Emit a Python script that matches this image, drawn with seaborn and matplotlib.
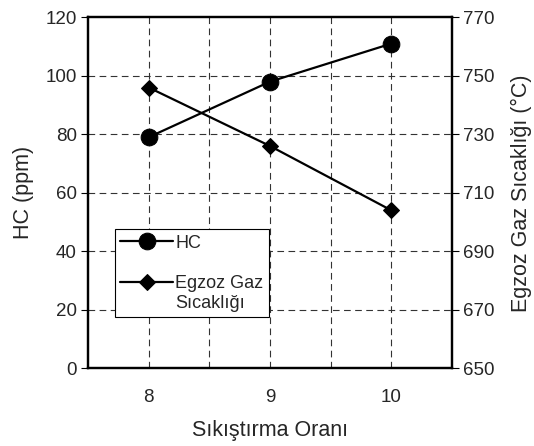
import matplotlib
matplotlib.use("Agg")
import matplotlib.pyplot as plt
import seaborn as sns
import pandas as pd
import numpy as np

sns.set_style("white")
plt.rcParams['font.family'] = ['Liberation Sans', 'DejaVu Sans']

# Data
oran = [8, 9, 10]
hc = [79, 98, 111]
egzoz = [746, 726, 704]
x_label = "Sıkıştırma Oranı"
y_left_label = "HC (ppm)"
y_right_label = "Egzoz Gaz Sıcaklığı (°C)"
series_names = ["HC", "Egzoz Gaz\nSıcaklığı"]

df = pd.DataFrame({"oran": oran, "hc": hc, "egzoz": egzoz})

fig = plt.figure(figsize=(5.34, 4.46), dpi=100)
ax = fig.add_axes([88/534, 1 - 368.3/446, (452-88)/534, (368.3-17.3)/446])
ax2 = ax.twinx()

grid_kw = dict(color="#333333", linewidth=0.8, linestyle=(0, (6, 4)))

sns.lineplot(data=df, x="oran", y="hc", ax=ax, color="black", linewidth=1.6,
             marker="o", markersize=12, markeredgecolor="black", label=series_names[0], legend=False)
sns.lineplot(data=df, x="oran", y="egzoz", ax=ax2, color="black", linewidth=1.6,
             marker="D", markersize=8.5, markeredgecolor="black", label=series_names[1], legend=False)

ax.set_xlim(7.5, 10.5)
ax.set_ylim(0, 120)
ax2.set_ylim(650, 770)
ax.set_yticks(np.arange(0, 121, 20))
ax2.set_yticks(np.arange(650, 771, 20))
xt = np.arange(7.5, 10.51, 0.5)
ax.set_xticks(xt)
ax.set_xticklabels([str(int(v)) if float(v).is_integer() else "" for v in xt])

# grid
for v in np.arange(8, 10.01, 0.5):
    ax.axvline(v, zorder=0, **grid_kw)
for v in np.arange(20, 101, 20):
    ax.axhline(v, zorder=0, **grid_kw)

for a in (ax, ax2):
    for s in a.spines.values():
        s.set_linewidth(1.6)
        s.set_color("black")
ax.tick_params(axis="x", direction="out", length=5, width=0.8, labelsize=13.5, pad=10, color="black")
ax.tick_params(axis="y", direction="out", length=5, width=0.8, labelsize=13.5, pad=3, color="black", left=True)
ax2.tick_params(axis="y", direction="out", length=5, width=0.8, labelsize=13.5, pad=3, color="black", right=True)

ax.set_xlabel(x_label, fontsize=15.5, labelpad=10)
ax.set_ylabel(y_left_label, fontsize=15.5, labelpad=8)
ax2.set_ylabel(y_right_label, fontsize=15.5, labelpad=12)

h1, l1 = ax.get_legend_handles_labels()
h2, l2 = ax2.get_legend_handles_labels()
leg = ax2.legend(h1 + h2, l1 + l2, loc="upper left", bbox_to_anchor=(0.074, 0.396),
                 borderaxespad=0, fontsize=13, frameon=True, fancybox=False,
                 edgecolor="black", framealpha=1, handlelength=2.9, handletextpad=0.15,
                 labelspacing=1.3, borderpad=0.3)
leg.get_frame().set_linewidth(0.8)
# align handles with first line of label
for col in leg._legend_handle_box.get_children():
    for hp in col.get_children():
        hp.align = "top"

ax.set_zorder(ax2.get_zorder() - 1)
ax.patch.set_visible(True)
ax2.patch.set_visible(False)

fig.savefig("out.png", dpi=100)
